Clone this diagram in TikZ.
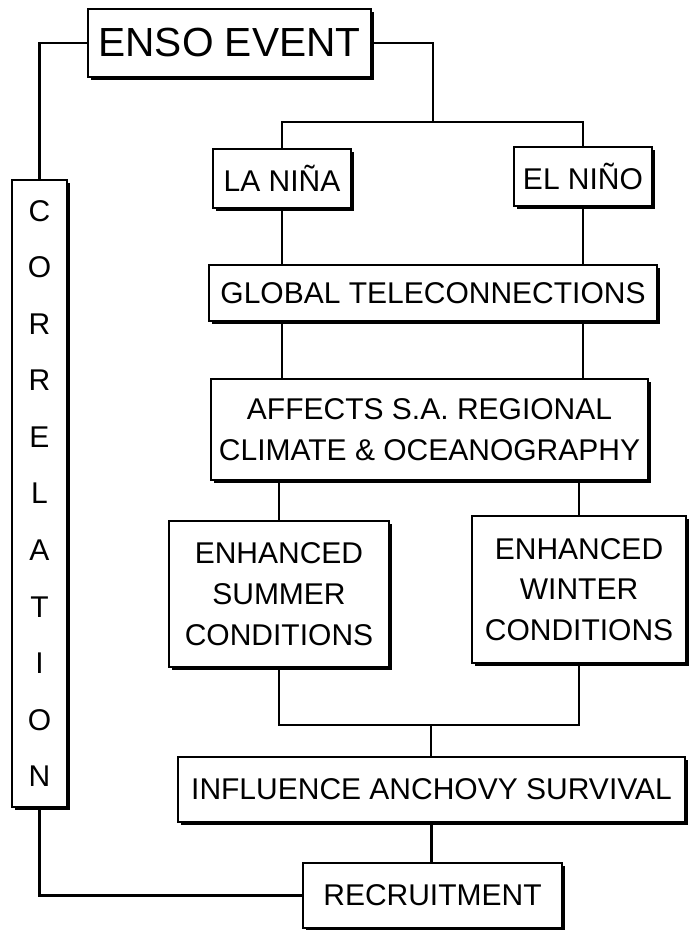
\documentclass[tikz,border=0pt]{standalone}
\usepackage{fontspec}
\setmainfont{Liberation Sans}
\usetikzlibrary{shadows}
\tikzset{
  box/.style={draw, fill=white, line width=1pt, inner sep=0pt, align=center,
    font=\fontsize{22.5}{30.5}\selectfont,
    drop shadow={shadow xshift=2.2pt, shadow yshift=-2.2pt, opacity=1, fill=black}},
  conn/.style={line width=1.6pt}
}
\begin{document}
\begin{tikzpicture}[x=0.75pt,y=-0.75pt]
\useasboundingbox (0,0) rectangle (689,930);
% boxes
\node[box, minimum width=283*0.75pt, minimum height=68*0.75pt, font=\fontsize{30.5}{31}\selectfont] (enso) at (229.5,43) {ENSO EVENT};
\node[box, minimum width=55*0.75pt, minimum height=627*0.75pt, font=\fontsize{22.5}{42.4}\selectfont] (corr) at (39.5,493.5) {C\\O\\R\\R\\E\\L\\A\\T\\I\\O\\N};
\node[box, minimum width=138*0.75pt, minimum height=59*0.75pt] (lanina) at (282,178.5) {LA NIÑA};
\node[box, minimum width=138*0.75pt, minimum height=59*0.75pt] (elnino) at (583,176.5) {EL NIÑO};
\node[box, minimum width=448*0.75pt, minimum height=56*0.75pt] (global) at (433,293) {GLOBAL TELECONNECTIONS};
\node[box, minimum width=437*0.75pt, minimum height=101*0.75pt] (affects) at (429.5,429.5) {AFFECTS S.A. REGIONAL\\CLIMATE \& OCEANOGRAPHY};
\node[box, minimum width=220*0.75pt, minimum height=146*0.75pt] (summer) at (279,594) {ENHANCED\\SUMMER\\CONDITIONS};
\node[box, minimum width=214*0.75pt, minimum height=147*0.75pt] (winter) at (579,589.5) {ENHANCED\\WINTER\\CONDITIONS};
\node[box, minimum width=507*0.75pt, minimum height=65*0.75pt] (influence) at (431.5,789.5) {INFLUENCE ANCHOVY SURVIVAL};
\node[box, minimum width=259*0.75pt, minimum height=65*0.75pt] (recruit) at (432.5,895.5) {RECRUITMENT};
% junction points
\coordinate (split) at (433,122);
\coordinate (join) at (431,725);
% connectors
\draw[conn] (enso.west) -| (corr.north);
\draw[conn] (enso.east) -| (split);
\draw[conn] (lanina.north) |- (split) -| (elnino.north);
\draw[conn] (lanina.south) -- (lanina.south |- global.north);
\draw[conn] (elnino.south) -- (elnino.south |- global.north);
\draw[conn] (lanina.south |- global.south) -- (lanina.south |- affects.north);
\draw[conn] (elnino.south |- global.south) -- (elnino.south |- affects.north);
\draw[conn] (summer.north |- affects.south) -- (summer.north);
\draw[conn] (winter.north |- affects.south) -- (winter.north);
\draw[conn] (summer.south) |- (join) -| (winter.south);
\draw[conn] (join) -- (join |- influence.north);
\draw[conn] (influence.south) -- (influence.south |- recruit.north);
\draw[conn] (corr.south) |- (recruit.west);
\end{tikzpicture}
\end{document}
